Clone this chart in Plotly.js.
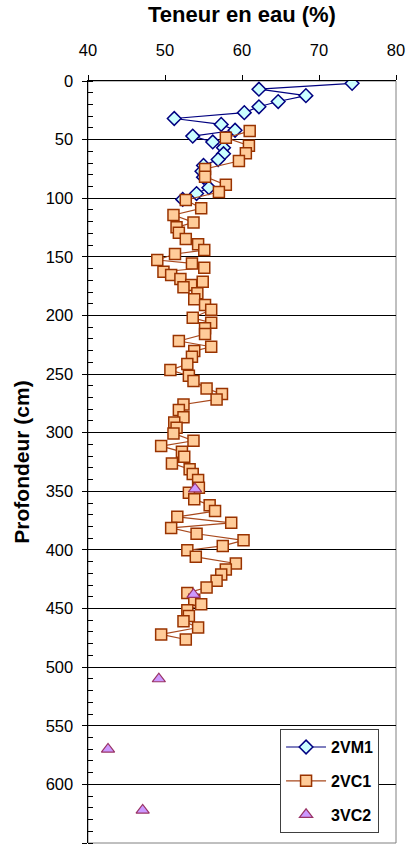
<!DOCTYPE html>
<html>
<head>
<meta charset="utf-8">
<script src="https://cdn.plot.ly/plotly-3.0.1.min.js"></script>
<style>html,body{margin:0;padding:0;background:#fff;}#chart{width:407px;height:849px;}</style>
</head>
<body>
<div id="chart"></div>
<script>
// 2VM1 : profondeur (cm) et teneur en eau (%)
const depth2VM1 = [2, 7, 12.5, 17.5, 22, 27, 32, 37, 42, 47, 52, 57, 62, 67, 72, 77, 82, 91, 96, 101];
const water2VM1 = [74.3, 62.2, 68.3, 64.7, 62.2, 60.3, 51.2, 57.3, 59.1, 53.6, 56.2, 57.6, 57.6, 56.9, 55.0, 54.8, 55.0, 55.7, 54.1, 52.3];

// 2VC1
const depth2VC1 = [42.7, 48.4, 55.2, 61.7, 68.3, 75.1, 81.6, 88.6, 94.7, 101.5, 108.6, 114.3, 120.6, 124.8, 129.4, 134.8, 139.3, 144.2, 147.6, 152.7, 155.6, 159.3, 162.7, 165.5, 169, 171.2, 174, 176, 181.1, 186.2, 191.1, 195.1, 202, 206.2, 211, 215.9, 221.8, 226.7, 230.4, 235.2, 241.5, 246.6, 251.4, 256, 262.2, 267.1, 271.6, 275.9, 280.7, 286.9, 291.3, 295.7, 300.6, 306.9, 311.4, 316.3, 320.6, 326.2, 331.1, 335.3, 340.4, 347, 351.3, 356.7, 361.8, 366.9, 371.8, 376.9, 381.2, 386.2, 391.8, 396.6, 400.3, 405.9, 411.6, 416.7, 421, 426.4, 432.1, 436.7, 442.4, 446.3, 451.5, 456.3, 460.8, 466.2, 472.1, 476.4];
const water2VC1 = [61.0, 57.9, 60.9, 60.5, 59.6, 55.2, 55.2, 57.9, 57.0, 52.7, 54.7, 51.1, 53.7, 51.5, 51.8, 52.7, 54.3, 55.1, 51.3, 49.0, 53.5, 55.1, 49.8, 50.8, 52.0, 54.9, 53.4, 52.4, 54.2, 53.8, 55.2, 56.0, 53.6, 56.0, 55.2, 55.2, 51.8, 56.0, 53.8, 53.5, 52.9, 50.7, 53.1, 53.7, 55.4, 57.4, 56.7, 52.4, 51.8, 52.4, 51.2, 51.5, 51.1, 53.7, 49.5, 52.2, 52.5, 50.9, 53.2, 53.6, 54.3, 54.4, 53.1, 53.8, 55.8, 56.5, 51.6, 58.6, 50.8, 54.1, 60.2, 57.5, 52.9, 54.0, 59.2, 57.9, 57.3, 56.7, 55.4, 52.9, 53.8, 54.7, 52.9, 53.1, 52.4, 54.3, 49.5, 52.7];

// 3VC2
const depth3VC2 = [348, 438, 510, 570, 622];
const water3VC2 = [53.9, 53.7, 49.2, 42.6, 47.1];

const seriesNames = ['2VM1', '2VC1', '3VC2'];
const xTicks = [40, 50, 60, 70, 80];
const yTicks = [0, 50, 100, 150, 200, 250, 300, 350, 400, 450, 500, 550, 600, 650];

const FONT = 'Liberation Sans, Arial, sans-serif';

const traces = [
  {
    x: water2VM1, y: depth2VM1, name: seriesNames[0], legendgroup: 'a',
    type: 'scatter', mode: 'lines+markers',
    line: {color: '#000080', width: 1.2},
    marker: {symbol: 'diamond', size: 10.5, color: '#CCFFFF', line: {color: '#000080', width: 1.5}}
  },
  {
    x: water2VC1, y: depth2VC1, name: seriesNames[1], legendgroup: 'b',
    type: 'scatter', mode: 'lines+markers',
    line: {color: '#A8481C', width: 1.2},
    marker: {symbol: 'square', size: 11, color: '#FFCC99', line: {color: '#993300', width: 1.5}}
  },
  {
    x: water3VC2, y: depth3VC2, name: seriesNames[2], legendgroup: 'c',
    type: 'scatter', mode: 'markers',
    marker: {symbol: 'triangle-up', size: 11.5, color: '#CC99FF', line: {color: '#993366', width: 1.2}}
  }
];

const layout = {
  width: 407, height: 849,
  margin: {l: 88, r: 11, t: 81, b: 6},
  paper_bgcolor: '#ffffff', plot_bgcolor: '#ffffff',
  font: {family: FONT, size: 16, color: '#000'},
  showlegend: true,
  legend: {
    x: 0.945, xanchor: 'right', y: 0.013, yanchor: 'bottom',
    bgcolor: '#ffffff', bordercolor: '#404040', borderwidth: 1,
    font: {family: FONT, size: 16, color: '#000', weight: 'bold'},
    itemwidth: 40,
    tracegroupgap: 10, traceorder: 'grouped'
  },
  xaxis: {
    side: 'top', range: [40, 80], tickvals: xTicks, ticktext: xTicks.map(String),
    showgrid: false, zeroline: false,
    showline: true, linecolor: '#000', linewidth: 1,
    ticks: 'outside', ticklen: 5, tickcolor: '#000', tickwidth: 1,
    ticklabelstandoff: 12,
    tickfont: {family: FONT, size: 16.5, color: '#000'},
    title: {text: 'Teneur en eau (%)', font: {family: FONT, size: 22, color: '#000', weight: 'bold'}, standoff: 12},
    fixedrange: true
  },
  yaxis: {
    range: [650, 0], tickvals: yTicks, ticktext: yTicks.map(String),
    showgrid: true, gridcolor: '#000', gridwidth: 1, zeroline: false,
    showline: true, linecolor: '#000', linewidth: 1.5,
    ticks: 'outside', ticklen: 5, tickcolor: '#000', tickwidth: 1,
    minor: {dtick: 10, ticks: 'inside', ticklen: 5, tickcolor: '#000', showgrid: false},
    ticklabelstandoff: 5,
    tickfont: {family: FONT, size: 16.5, color: '#000'},
    title: {text: 'Profondeur (cm)', font: {family: FONT, size: 21, color: '#000', weight: 'bold'}, standoff: 10},
    fixedrange: true
  },
  shapes: [{
    type: 'rect', xref: 'paper', yref: 'paper', x0: 0, x1: 1, y0: 0, y1: 1,
    line: {color: '#808080', width: 1}, layer: 'below'
  }]
};

Plotly.newPlot('chart', traces, layout, {displayModeBar: false, staticPlot: true});
</script>
</body>
</html>
